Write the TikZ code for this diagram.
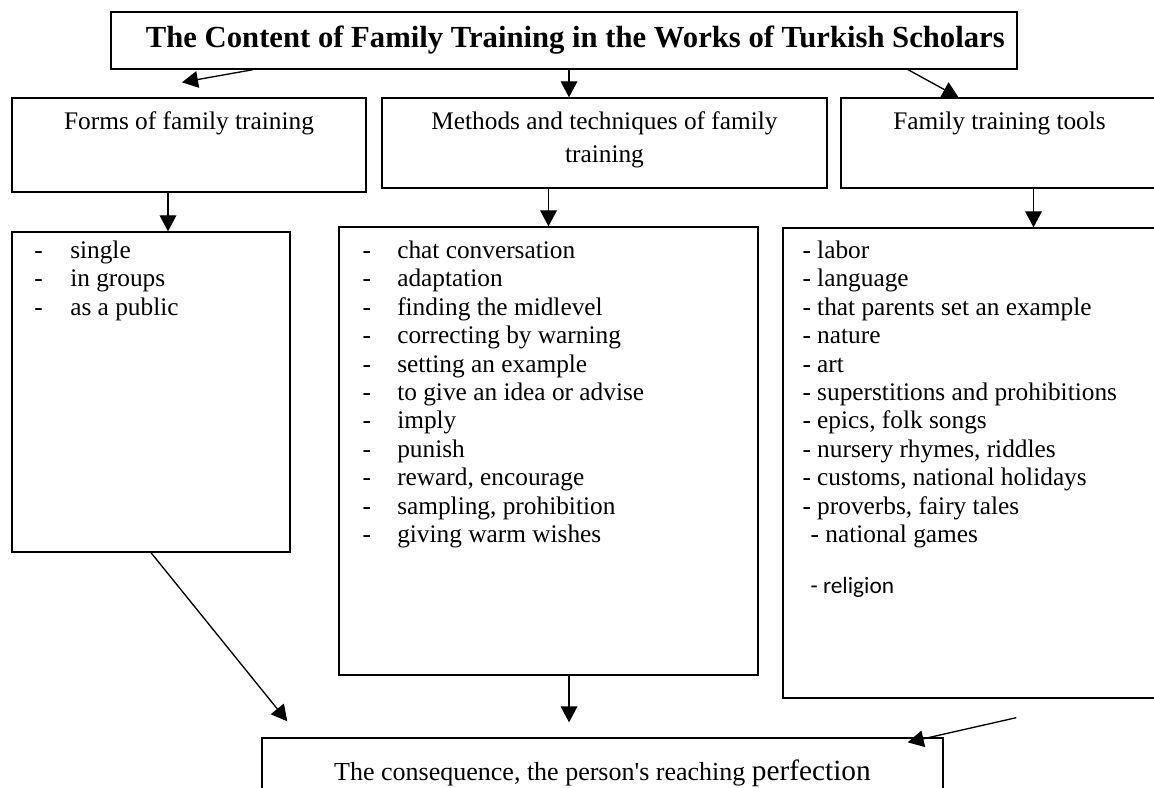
\documentclass[tikz,border=0pt]{standalone}
\usepackage{fontspec}
\setmainfont{Liberation Serif}[Ligatures=TeXOff]
\newfontfamily\carlito{Carlito}
\usetikzlibrary{positioning}
\usetikzlibrary{arrows.meta}

\begin{document}
\begin{tikzpicture}[x=0.75pt, y=-0.75pt,
    box/.style={draw, line width=1pt, rectangle, inner sep=0pt},
    head/.style={font=\fontsize{19}{25}\selectfont, align=center, inner sep=0pt},
    items/.style={font=\fontsize{19}{21.3}\selectfont, align=left, inner sep=0pt},
    arr/.style={-{Triangle[length=12pt, width=12.5pt]}, line width=1pt}]

    % page
    \useasboundingbox (0,0) rectangle (1154,788);

    % Define nodes
    \node[box, minimum width=679.5pt, minimum height=42.75pt, font=\fontsize{23}{27}\selectfont\bfseries] (title) at (564,40.5)
        {\hspace*{17pt}\raisebox{-1.5pt}{The Content of Family Training in the Works of Turkish Scholars}};

    \node[box, minimum width=265.5pt, minimum height=70.5pt] (forms) at (189,145) {};
    \node[box, minimum width=333.75pt, minimum height=67.5pt] (methods) at (604.5,143) {};
    \node[box, minimum width=237.75pt, minimum height=67.5pt] (family) at (999.5,143) {};
    \node[head, below=10.5pt of forms.north] (formsT) {Forms of family training};
    \node[head, below=10.5pt of methods.north] (methodsT) {Methods and techniques of family\\training};
    \node[head, below=10.5pt of family.north] (familyT) {Family training tools};

    \node[box, minimum width=208.5pt, minimum height=240pt] (list1) at (151,392) {};
    \node[box, minimum width=314.25pt, minimum height=336pt] (list2) at (548.5,451) {};
    \node[box, minimum width=282.75pt, minimum height=352.5pt] (list3) at (971.5,463) {};

    \node[items, below right=7pt and 17pt of list1.north west] (formsL) {%
        \makebox[27pt][l]{-}single\\
        \makebox[27pt][l]{-}in groups\\
        \makebox[27pt][l]{-}as a public};
    \node[items, below right=10.8pt and 18pt of list2.north west] (methodsL) {%
        \makebox[26pt][l]{-}chat conversation\\
        \makebox[26pt][l]{-}adaptation\\
        \makebox[26pt][l]{-}finding the midlevel\\
        \makebox[26pt][l]{-}correcting by warning\\
        \makebox[26pt][l]{-}setting an example\\
        \makebox[26pt][l]{-}to give an idea or advise\\
        \makebox[26pt][l]{-}imply\\
        \makebox[26pt][l]{-}punish\\
        \makebox[26pt][l]{-}reward, encourage\\
        \makebox[26pt][l]{-}sampling, prohibition\\
        \makebox[26pt][l]{-}giving warm wishes};
    \node[items, below right=10pt and 15pt of list3.north west] (familyL) {%
        \makebox[11pt][l]{-}labor\\
        \makebox[11pt][l]{-}language\\
        \makebox[11pt][l]{-}that parents set an example\\
        \makebox[11pt][l]{-}nature\\
        \makebox[11pt][l]{-}art\\
        \makebox[11pt][l]{-}superstitions and prohibitions\\
        \makebox[11pt][l]{-}epics, folk songs\\
        \makebox[11pt][l]{-}nursery rhymes, riddles\\
        \makebox[11pt][l]{-}customs, national holidays\\
        \makebox[11pt][l]{-}proverbs, fairy tales\\
        \hspace*{6pt}- national games\\[17pt]
        \hspace*{6pt}{\carlito\fontsize{17.5}{21.3}\selectfont - religion}};

    \node[box, minimum width=510.75pt, minimum height=52.5pt, font=\fontsize{19.5}{24}\selectfont] (result) at (602.5,773)
        {The consequence, the person's reaching {\fontsize{22}{26}\selectfont perfection}};

    % Connect the nodes
    \draw[arr] ([xshift=-233.25pt]title.south) -- ([xshift=-5.25pt, yshift=11.25pt]forms.north);
    \draw[arr] ([xshift=3.75pt]title.south) -- ([xshift=3.75pt]title.south |- methods.north);
    \draw[arr] ([xshift=258pt]title.south) -- ([xshift=-30.75pt]family.north);

    \draw[arr] ([xshift=-15.75pt]forms.south) -- ([xshift=-15.75pt]forms.south |- list1.north);
    \draw[arr] (methods.south -| list2.north) -- (list2.north);
    \draw[arr] ([xshift=25.5pt]family.south) -- ([xshift=25.5pt]family.south |- list3.north);

    \draw[arr] (list1.south) -- ([xshift=19.5pt, yshift=12pt]result.north west);
    \draw[arr] ([xshift=15.4pt]list2.south) -- ([xshift=15.4pt, yshift=11.25pt]list2.south |- result.north);
    \draw[arr] ([xshift=175.5pt, yshift=-14.25pt]list3.south west) -- ([xshift=-27pt, yshift=-3.75pt]result.north east);

\end{tikzpicture}
\end{document}
